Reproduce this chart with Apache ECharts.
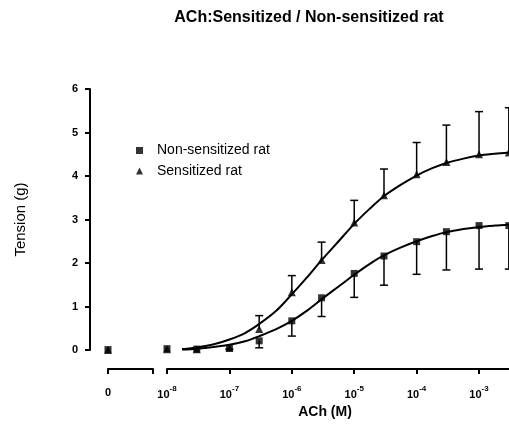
<!DOCTYPE html>
<html><head><meta charset="utf-8">
<script src="https://cdn.jsdelivr.net/npm/echarts@6/dist/echarts.min.js"></script>
<style>html,body{margin:0;padding:0;background:#fff}#c{width:509px;height:425px}</style>
</head><body><div id="c"></div>
<script>
// ---- data ----
const concentrations = [1e-8, 3e-8, 1e-7, 3e-7, 1e-6, 3e-6, 1e-5, 3e-5, 1e-4, 3e-4, 1e-3, 3e-3];
const nonSensitized    = [0.03, 0.02, 0.04, 0.21, 0.67, 1.20, 1.76, 2.16, 2.49, 2.72, 2.86, 2.86];
const nonSensitizedSEM = [0, 0, 0.02, 0.16, 0.35, 0.43, 0.55, 0.67, 0.75, 0.88, 1.00, 1.00];
const sensitized       = [0.02, 0.02, 0.05, 0.48, 1.33, 2.07, 2.93, 3.56, 4.04, 4.32, 4.50, 4.54];
const sensitizedSEM    = [0, 0, 0, 0.31, 0.38, 0.41, 0.51, 0.60, 0.73, 0.85, 0.98, 1.03];
const zeroDoseNonSensitized = [0.01];
const zeroDoseSensitized = [0.0];
// fitted curves (x as log10 of molar concentration)
const curveLogConc = [-7.76, -7.52, -7.25, -7.0, -6.75, -6.52, -6.25, -6.0, -5.75, -5.52, -5.25, -5.0, -4.75, -4.52, -4.25, -4.0, -3.75, -3.52, -3.25, -3.0, -2.75, -2.52];
const nonSensitizedFit = [0.01, 0.03, 0.07, 0.12, 0.20, 0.32, 0.48, 0.67, 0.91, 1.17, 1.46, 1.73, 1.98, 2.18, 2.36, 2.50, 2.62, 2.71, 2.78, 2.83, 2.86, 2.88];
const sensitizedFit    = [0.02, 0.06, 0.13, 0.24, 0.39, 0.60, 0.90, 1.28, 1.68, 2.07, 2.50, 2.90, 3.25, 3.54, 3.80, 4.01, 4.18, 4.30, 4.40, 4.47, 4.51, 4.54];
const xTickExponents = [-8, -7, -6, -5, -4, -3];
const yTicks = [0, 1, 2, 3, 4, 5, 6];
const legendNames = ['Non-sensitized rat', 'Sensitized rat'];

const FONT = '"Liberation Sans", Arial, Helvetica, sans-serif';
const logConc = concentrations.map(c => Math.log10(c));
const pairs = (xs, ys) => xs.map((x, i) => [x, ys[i]]);
const triples = (xs, ys, es) => xs.map((x, i) => [x, ys[i], es[i]]);

function errorBars(dir) {
  return function (params, api) {
    const x = api.value(0), y = api.value(1), e = api.value(2);
    if (!e) return null;
    const p0 = api.coord([x, y]);
    const p1 = api.coord([x, y + dir * e]);
    const half = 4;
    const st = { stroke: '#000', lineWidth: 1.5 };
    return { type: 'group', children: [
      { type: 'line', shape: { x1: p0[0], y1: p0[1], x2: p1[0], y2: p1[1] }, style: st },
      { type: 'line', shape: { x1: p1[0] - half, y1: p1[1], x2: p1[0] + half, y2: p1[1] }, style: st }
    ]};
  };
}

const axisLineStyle = { show: true, onZero: false, lineStyle: { color: '#000', width: 2 } };
const tickStyle = { show: true, inside: false, length: 5, lineStyle: { color: '#000', width: 2 } };

const chart = echarts.init(document.getElementById('c'), null, { renderer: 'canvas' });
chart.setOption({
  animation: false,
  backgroundColor: '#fff',
  textStyle: { fontFamily: FONT },
  title: {
    text: 'ACh:Sensitized / Non-sensitized rat',
    left: 309, textAlign: 'center', top: 10, padding: 0,
    textStyle: { fontFamily: FONT, fontSize: 16, fontWeight: 'bold', color: '#000' }
  },
  legend: {
    orient: 'vertical', left: 136, top: 143.5, padding: 0,
    itemWidth: 7, itemHeight: 7, itemGap: 6.5,
    textStyle: { fontFamily: FONT, fontSize: 14, color: '#000', padding: [0, 0, 0, 9] },
    data: [
      { name: legendNames[0], icon: 'rect' },
      { name: legendNames[1], icon: 'triangle' }
    ],
    selectedMode: false
  },
  grid: [
    { left: 108, width: 45, top: 89, height: 261, containLabel: false },
    { left: 167, width: 342, top: 89, height: 261, containLabel: false }
  ],
  xAxis: [
    { gridIndex: 0, type: 'value', min: 0, max: 1, offset: 19,
      axisLine: axisLineStyle, splitLine: { show: false },
      axisTick: Object.assign({}, tickStyle, { customValues: [0, 1] }),
      axisLabel: { customValues: [0], margin: 18, formatter: v => (v === 0 ? '0' : ''),
        fontFamily: FONT, fontSize: 11, fontWeight: 'bold', color: '#000' } },
    { gridIndex: 1, type: 'value', min: -8, max: -2.52, offset: 19,
      axisLine: axisLineStyle, splitLine: { show: false },
      axisTick: Object.assign({}, tickStyle, { customValues: xTickExponents }),
      axisLabel: { customValues: xTickExponents, margin: 16,
        formatter: v => '{b|10}{s|' + v + '}',
        rich: {
          b: { fontFamily: FONT, fontSize: 11, fontWeight: 'bold', color: '#000', lineHeight: 15, verticalAlign: 'bottom' },
          s: { fontFamily: FONT, fontSize: 8, fontWeight: 'bold', color: '#000', lineHeight: 7, verticalAlign: 'top' }
        } },
      name: 'ACh (M)', nameLocation: 'middle', nameGap: 35,
      nameTextStyle: { fontFamily: FONT, fontSize: 14, fontWeight: 'bold', color: '#000', padding: [0, 26, 0, 0] } }
  ],
  yAxis: [
    { gridIndex: 0, type: 'value', min: 0, max: 6, interval: 1, offset: 18,
      axisLine: axisLineStyle, axisTick: tickStyle, splitLine: { show: false },
      axisLabel: { margin: 12, fontFamily: FONT, fontSize: 11, fontWeight: 'bold', color: '#000',
        customValues: yTicks },
      name: 'Tension (g)', nameLocation: 'middle', nameGap: 62, nameRotate: 90,
      nameTextStyle: { fontFamily: FONT, fontSize: 15, color: '#000' } },
    { gridIndex: 1, type: 'value', min: 0, max: 6, interval: 1, show: false }
  ],
  series: [
    { type: 'line', name: 'fit-non', xAxisIndex: 1, yAxisIndex: 1, data: pairs(curveLogConc, nonSensitizedFit),
      smooth: 0.3, showSymbol: false, symbol: 'none', lineStyle: { color: '#000', width: 2 }, z: 2, silent: true },
    { type: 'line', name: 'fit-sens', xAxisIndex: 1, yAxisIndex: 1, data: pairs(curveLogConc, sensitizedFit),
      smooth: 0.3, showSymbol: false, symbol: 'none', lineStyle: { color: '#000', width: 2 }, z: 2, silent: true },
    { type: 'custom', name: 'err-non', xAxisIndex: 1, yAxisIndex: 1, renderItem: errorBars(-1),
      data: triples(logConc, nonSensitized, nonSensitizedSEM), z: 3, silent: true },
    { type: 'custom', name: 'err-sens', xAxisIndex: 1, yAxisIndex: 1, renderItem: errorBars(1),
      data: triples(logConc, sensitized, sensitizedSEM), z: 3, silent: true },
    { type: 'scatter', name: legendNames[1], xAxisIndex: 1, yAxisIndex: 1, data: pairs(logConc, sensitized),
      symbol: 'triangle', symbolSize: 8, itemStyle: { color: '#000' }, clip: false, z: 4 },
    { type: 'scatter', name: legendNames[0], xAxisIndex: 1, yAxisIndex: 1, data: pairs(logConc, nonSensitized),
      symbol: 'rect', symbolSize: 7, itemStyle: { color: '#000' }, clip: false, z: 5 },
    { type: 'scatter', name: legendNames[1], xAxisIndex: 0, yAxisIndex: 0, data: zeroDoseSensitized.map(v => [0, v]),
      symbol: 'triangle', symbolSize: 8, itemStyle: { color: '#000' }, clip: false, z: 4 },
    { type: 'scatter', name: legendNames[0], xAxisIndex: 0, yAxisIndex: 0, data: zeroDoseNonSensitized.map(v => [0, v]),
      symbol: 'rect', symbolSize: 7, itemStyle: { color: '#000' }, clip: false, z: 5 }
  ]
});
</script></body></html>
